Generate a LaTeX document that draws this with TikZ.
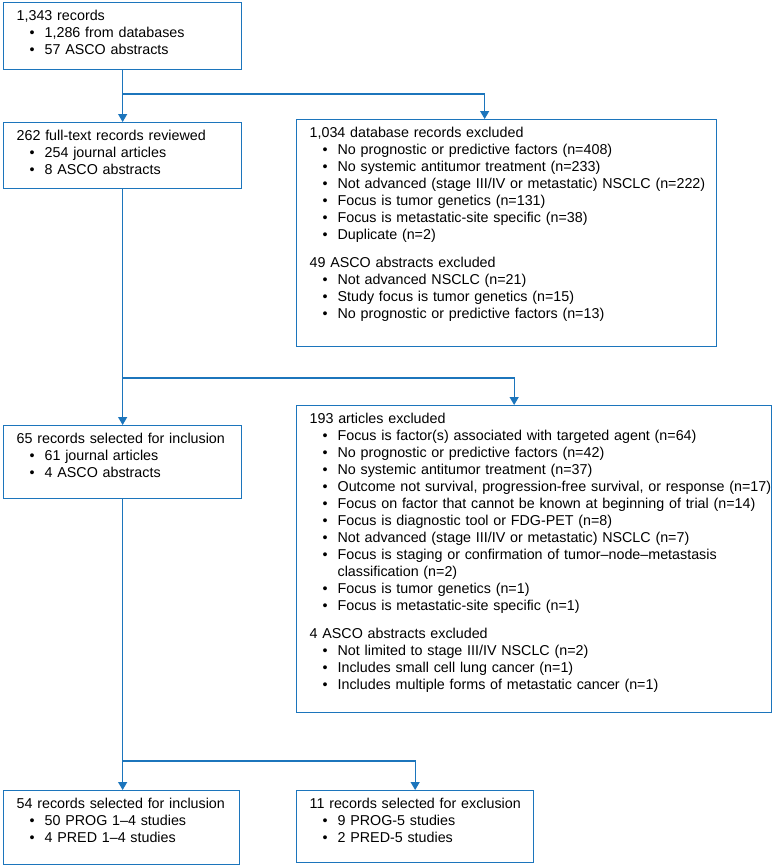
\documentclass[tikz,border=0pt]{standalone}
\usepackage{fontspec}
\setmainfont{Liberation Sans}
\usetikzlibrary{arrows.meta}
\definecolor{flowblue}{RGB}{28,117,188}
\newcommand{\itm}[1]{\hspace*{13pt}\makebox[15pt][l]{\textbullet}\mbox{#1}}
\begin{document}
\begin{tikzpicture}[x=1pt,y=-1pt,
  box/.style={draw=flowblue,line width=1.3pt,anchor=north west,align=left,inner xsep=13pt,inner ysep=8pt,text height=10pt,font=\fontsize{14.3pt}{17pt}\selectfont},
  arr/.style={draw=flowblue,line width=1.3pt,-{Triangle[width=9pt,length=8pt]}}]
\useasboundingbox (0,0) rectangle (773,865);
\node[box,text width=212pt,text depth=41pt] (rec) at (3,2) {\mbox{1,343 records}\\\itm{1,286 from databases}\\\itm{57 ASCO abstracts}};
\node[box,text width=212pt,text depth=40pt] (full) at (3,122) {\mbox{262 full-text records reviewed}\\\itm{254 journal articles}\\\itm{8 ASCO abstracts}};
\node[box,text width=394pt,text depth=201pt] (dbx) at (296,119) {\mbox{1,034 database records excluded}\\
\itm{No prognostic or predictive factors (n=408)}\\
\itm{No systemic antitumor treatment (n=233)}\\
\itm{Not advanced (stage III/IV or metastatic) NSCLC (n=222)}\\
\itm{Focus is tumor genetics (n=131)}\\
\itm{Focus is metastatic-site specific (n=38)}\\
\itm{Duplicate (n=2)}\\[11pt]
\mbox{49 ASCO abstracts excluded}\\
\itm{Not advanced NSCLC (n=21)}\\
\itm{Study focus is tumor genetics (n=15)}\\
\itm{No prognostic or predictive factors (n=13)}};
\node[box,text width=212pt,text depth=47pt] (incl) at (3,425) {\mbox{65 records selected for inclusion}\\\itm{61 journal articles}\\\itm{4 ASCO abstracts}};
\node[box,text width=449pt,text depth=281pt] (artx) at (296,405) {\mbox{193 articles excluded}\\
\itm{Focus is factor(s) associated with targeted agent (n=64)}\\
\itm{No prognostic or predictive factors (n=42)}\\
\itm{No systemic antitumor treatment (n=37)}\\
\itm{Outcome not survival, progression-free survival, or response (n=17)}\\
\itm{Focus on factor that cannot be known at beginning of trial (n=14)}\\
\itm{Focus is diagnostic tool or FDG-PET (n=8)}\\
\itm{Not advanced (stage III/IV or metastatic) NSCLC (n=7)}\\
\itm{Focus is staging or confirmation of tumor–node–metastasis}\\
\hspace*{28pt}\mbox{classification (n=2)}\\
\itm{Focus is tumor genetics (n=1)}\\
\itm{Focus is metastatic-site specific (n=1)}\\[11pt]
\mbox{4 ASCO abstracts excluded}\\
\itm{Not limited to stage III/IV NSCLC (n=2)}\\
\itm{Includes small cell lung cancer (n=1)}\\
\itm{Includes multiple forms of metastatic cancer (n=1)}};
\node[box,text width=210pt,text depth=48pt] (final) at (3,790) {\mbox{54 records selected for inclusion}\\\itm{50 PROG 1–4 studies}\\\itm{4 PRED 1–4 studies}};
\node[box,text width=211pt,text depth=46pt] (finx) at (296,790) {\mbox{11 records selected for exclusion}\\\itm{9 PROG-5 studies}\\\itm{2 PRED-5 studies}};
\coordinate (b1) at (rec.south |- 0,94);
\coordinate (b2) at (full.south |- 0,378);
\coordinate (b3) at (incl.south |- 0,761);
\draw[arr] (rec.south) -- (full.north);
\draw[arr] (b1) -| ([xshift=-22pt]dbx.north);
\draw[arr] (full.south) -- (incl.north);
\draw[arr] (b2) -| ([xshift=-20pt]artx.north);
\draw[arr] (incl.south) -- (incl.south |- final.north);
\draw[arr] (b3) -| (finx.north);
\end{tikzpicture}
\end{document}
